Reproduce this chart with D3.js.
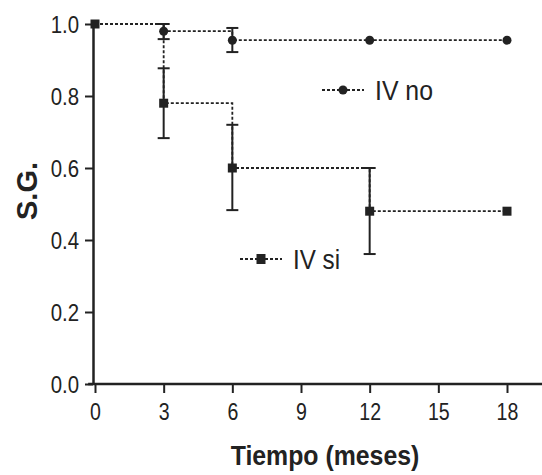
<!DOCTYPE html>
<html>
<head>
<meta charset="utf-8">
<script src="https://cdn.jsdelivr.net/npm/d3@7"></script>
<style>
  body { margin: 0; background: #fff; }
  svg text { font-family: "Liberation Sans", Arial, sans-serif; fill: #222; }
</style>
</head>
<body>
<svg id="chart" width="542" height="475"></svg>
<script>
// data
var months = [0, 3, 6, 12, 18];
var ivNo = [1.0, 0.98, 0.955, 0.955, 0.955];
var ivNoLo = [null, 0.958, 0.922, null, null];
var ivNoHi = [null, 1.0, 0.989, null, null];
var ivSi = [1.0, 0.78, 0.60, 0.48, 0.48];
var ivSiLo = [null, 0.683, 0.483, 0.361, null];
var ivSiHi = [null, 0.877, 0.72, 0.60, null];
var xTicks = [0, 3, 6, 9, 12, 15, 18];
var yTicks = [0, 0.2, 0.4, 0.6, 0.8, 1.0];

var ink = "#222";
var svg = d3.select("#chart");

// the original type is a narrow face, squeeze the text horizontally
function narrow(sel, f) {
    sel.each(function() {
        var w = this.getComputedTextLength();
        d3.select(this).attr("textLength", w * f).attr("lengthAdjust", "spacingAndGlyphs");
    });
}

var x = d3.scaleLinear().domain([0, 18]).range([95, 507]);
var y = d3.scaleLinear().domain([0, 1]).range([384, 24]);

// x axis
var xAxis = svg.append("g")
    .attr("transform", "translate(0," + y(0) + ")")
    .call(d3.axisBottom(x).tickValues(xTicks).tickSize(9).tickSizeOuter(0));
xAxis.select(".domain").remove();
xAxis.append("line")
    .attr("x1", x(-0.3)).attr("x2", 542)
    .attr("stroke", ink).attr("stroke-width", 2.5);
xAxis.selectAll(".tick line").attr("stroke", ink).attr("stroke-width", 2);
xAxis.selectAll(".tick text")
    .attr("dy", 0).attr("y", 36)
    .style("font-size", "23px").attr("fill", ink)
    .call(narrow, 0.85);

// y axis
var yAxis = svg.append("g")
    .attr("transform", "translate(93,0)")
    .call(d3.axisLeft(y).tickValues(yTicks).tickSize(8).tickSizeOuter(0).tickFormat(d3.format(".1f")));
yAxis.select(".domain").attr("stroke", ink).attr("stroke-width", 2.5);
yAxis.selectAll(".tick line").attr("stroke", ink).attr("stroke-width", 2);
yAxis.selectAll(".tick text")
    .attr("x", -14).attr("dy", "0.36em")
    .style("font-size", "24px").attr("fill", ink)
    .call(narrow, 0.85);

// titles
svg.append("text")
    .attr("x", 325).attr("y", 465)
    .attr("text-anchor", "middle")
    .style("font-size", "27px").style("font-weight", "bold")
    .text("Tiempo (meses)")
    .call(narrow, 0.92);
svg.append("text")
    .attr("transform", "translate(37,191) rotate(-90)")
    .attr("text-anchor", "middle")
    .style("font-size", "29px").style("font-weight", "bold")
    .text("S.G.");

var step = d3.line()
    .x(function(d) { return x(d[0]); })
    .y(function(d) { return y(d[1]); })
    .curve(d3.curveStepAfter);

function series(vals, lo, hi, shape) {
    var pts = months.map(function(m, i) { return [m, vals[i]]; });
    svg.append("path")
        .datum(pts)
        .attr("d", step)
        .attr("fill", "none")
        .attr("stroke", ink)
        .attr("stroke-width", 1.8)
        .attr("stroke-dasharray", "3,2");

    var errs = months.map(function(m, i) { return {m: m, lo: lo[i], hi: hi[i]}; })
        .filter(function(d) { return d.lo != null; });
    var eb = svg.append("g").selectAll("g").data(errs).join("g")
        .attr("stroke", ink).attr("stroke-width", 2);
    eb.append("line")
        .attr("x1", function(d) { return x(d.m); }).attr("x2", function(d) { return x(d.m); })
        .attr("y1", function(d) { return y(d.lo); }).attr("y2", function(d) { return y(d.hi); });
    eb.append("line")
        .attr("x1", function(d) { return x(d.m) - 6; }).attr("x2", function(d) { return x(d.m) + 6; })
        .attr("y1", function(d) { return y(d.lo); }).attr("y2", function(d) { return y(d.lo); });
    eb.append("line")
        .attr("x1", function(d) { return x(d.m) - 6; }).attr("x2", function(d) { return x(d.m) + 6; })
        .attr("y1", function(d) { return y(d.hi); }).attr("y2", function(d) { return y(d.hi); });

    var marks = pts.filter(function(d, i) { return shape == "square" || i > 0; });
    if (shape == "circle") {
        svg.append("g").selectAll("circle").data(marks).join("circle")
            .attr("cx", function(d) { return x(d[0]); })
            .attr("cy", function(d) { return y(d[1]); })
            .attr("r", 4.5).attr("fill", ink);
    } else {
        svg.append("g").selectAll("rect").data(marks).join("rect")
            .attr("x", function(d) { return x(d[0]) - 4.5; })
            .attr("y", function(d) { return y(d[1]) - 4.5; })
            .attr("width", 9).attr("height", 9).attr("fill", ink);
    }
}

series(ivSi, ivSiLo, ivSiHi, "square");
series(ivNo, ivNoLo, ivNoHi, "circle");

// legends
function legend(lx, ly, label, shape, tw) {
    var g = svg.append("g").attr("transform", "translate(" + lx + "," + ly + ")");
    g.append("line").attr("x1", 0).attr("x2", 42)
        .attr("stroke", ink).attr("stroke-width", 1.8).attr("stroke-dasharray", "3,2");
    if (shape == "circle") g.append("circle").attr("cx", 21).attr("r", 4.5).attr("fill", ink);
    else g.append("rect").attr("x", 16.5).attr("y", -5).attr("width", 9).attr("height", 10).attr("fill", ink);
    g.append("text").attr("x", 53).attr("y", 10)
        .style("font-size", "27px")
        .attr("textLength", tw).attr("lengthAdjust", "spacingAndGlyphs")
        .text(label);
}
legend(322, 90, "IV no", "circle", 58);
legend(240, 259, "IV si", "square", 47);
</script>
</body>
</html>
